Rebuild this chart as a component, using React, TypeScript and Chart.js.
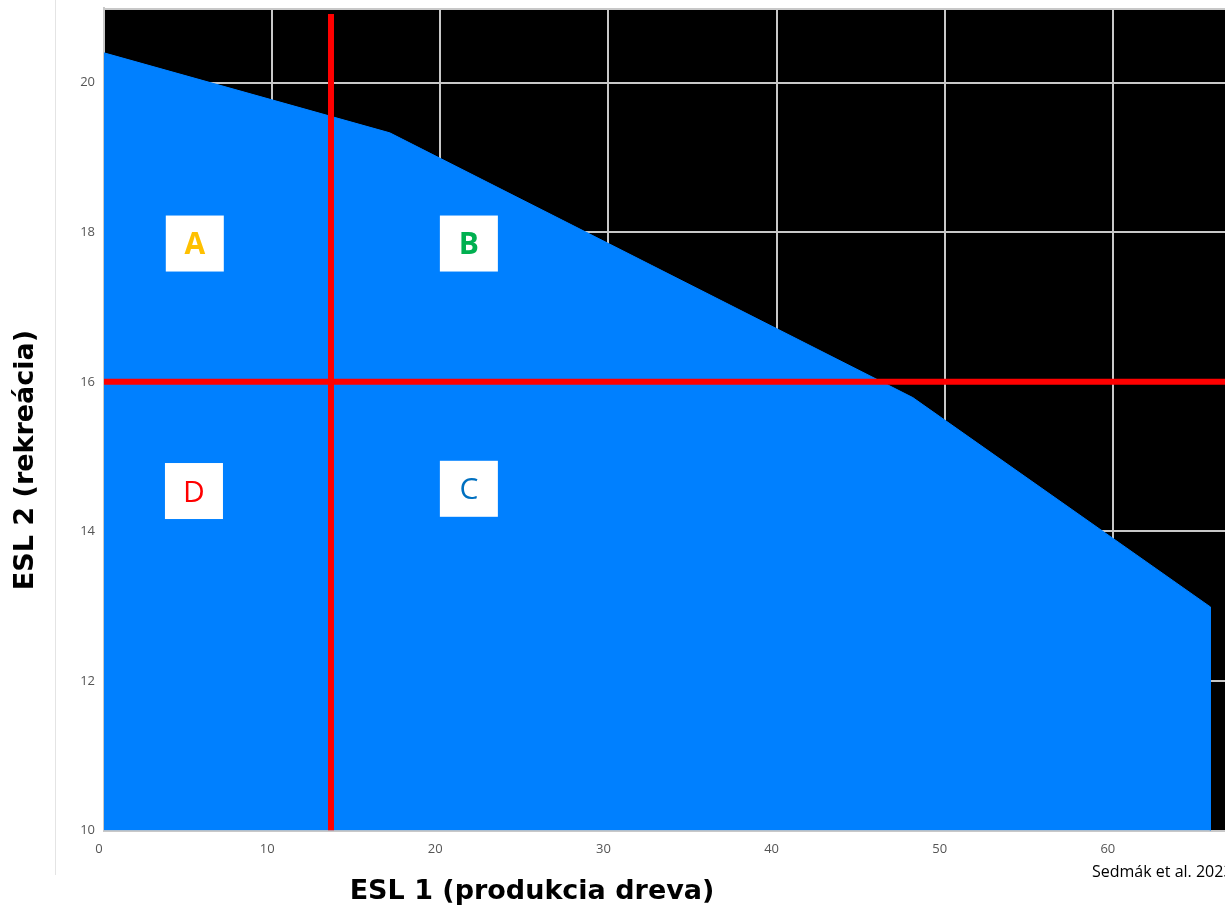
import { useEffect, useRef } from "react";
import { Chart, registerables } from "chart.js";

Chart.register(...registerables);

// ---- data ----
const frontierX = [0, 17.0, 48.1, 65.8, 65.8];
const frontierY = [20.4, 19.33, 15.79, 12.99, 10];

const xTickValues = [0, 10, 20, 30, 40, 50, 60, 70];
const yTickValues = [10, 12, 14, 16, 18, 20];
const xRange = [0, 70];
const yRange = [10, 21];

const thresholdX = 13.5; // vertical red line (ESL 1)
const thresholdY = 16; // horizontal red line (ESL 2)
const verticalLineTop = 20.92;

const quadrantLabels = ["A", "B", "C", "D"];
const quadrantX = [5.4, 21.7, 21.7, 5.35];
const quadrantY = [17.85, 17.85, 14.57, 14.54];
const quadrantColors = ["#FFC000", "#00B050", "#0070C0", "#FF0000"];
const quadrantWeights = ["bold", "bold", "normal", "normal"];

const xTitle = "ESL 1 (produkcia dreva)";
const yTitle = "ESL 2 (rekreácia)";
const sourceNote = "Sedmák et al. 2023";

const FONT = "'Open Sans', 'DejaVu Sans', sans-serif";
const TITLE_FONT = "'DejaVu Sans', 'Open Sans', sans-serif";

const backgroundPlugin = {
  id: "plotBackground",
  beforeDraw(chart: any) {
    const { ctx, chartArea } = chart;
    ctx.save();
    ctx.fillStyle = "#000000";
    ctx.fillRect(chartArea.left, chartArea.top, chartArea.right - chartArea.left, chartArea.bottom - chartArea.top);
    ctx.strokeStyle = "#c8c8c8";
    ctx.lineWidth = 2;
    ctx.beginPath();
    ctx.moveTo(chartArea.left, chartArea.top + 1);
    ctx.lineTo(chartArea.right, chartArea.top + 1);
    ctx.stroke();
    ctx.restore();
  },
};

const labelsPlugin = {
  id: "quadrantLabels",
  afterDatasetsDraw(chart: any) {
    const { ctx } = chart;
    const xs = chart.scales.x;
    const ys = chart.scales.y;
    ctx.save();
    quadrantLabels.forEach((lab, i) => {
      const cx = xs.getPixelForValue(quadrantX[i]);
      const cy = ys.getPixelForValue(quadrantY[i]);
      const w = 58;
      const h = 56;
      ctx.fillStyle = "#ffffff";
      ctx.fillRect(cx - w / 2, cy - h / 2, w, h);
      ctx.fillStyle = quadrantColors[i];
      ctx.font = `${quadrantWeights[i]} 30px ${FONT}`;
      ctx.textAlign = "center";
      ctx.textBaseline = "alphabetic";
      ctx.fillText(lab, cx, cy + 10.7);
    });
    ctx.restore();
  },
  afterDraw(chart: any) {
    const { ctx } = chart;
    ctx.save();
    ctx.fillStyle = "#000000";
    ctx.font = `bold 27px ${TITLE_FONT}`;
    ctx.textAlign = "center";
    ctx.textBaseline = "alphabetic";
    ctx.fillText(xTitle, 532, 899);

    ctx.save();
    ctx.translate(33, 460);
    ctx.rotate(-Math.PI / 2);
    ctx.fillText(yTitle, 0, 0);
    ctx.restore();

    ctx.font = `normal 16px ${FONT}`;
    ctx.textAlign = "left";
    ctx.fillText(sourceNote, 1092, 877);
    ctx.restore();
  },
};

export default function App() {
  const canvasRef = useRef<HTMLCanvasElement | null>(null);

  useEffect(() => {
    const canvas = canvasRef.current;
    if (!canvas) return;

    const tickFont = { family: FONT, size: 13 };

    const chart = new Chart(canvas, {
      type: "scatter",
      data: {
        datasets: [
          {
            label: "vertical",
            data: [
              { x: thresholdX, y: yRange[0] },
              { x: thresholdX, y: verticalLineTop },
            ],
            showLine: true,
            borderColor: "#FF0000",
            borderWidth: 6,
            pointRadius: 0,
            fill: false,
            order: 0,
          },
          {
            label: "horizontal",
            data: [
              { x: xRange[0], y: thresholdY },
              { x: xRange[1], y: thresholdY },
            ],
            showLine: true,
            borderColor: "#FF0000",
            borderWidth: 6,
            pointRadius: 0,
            fill: false,
            order: 0,
          },
          {
            label: "frontier",
            data: frontierX.map((x, i) => ({ x, y: frontierY[i] })),
            showLine: true,
            borderColor: "#0080FF",
            backgroundColor: "#0080FF",
            borderWidth: 1,
            pointRadius: 0,
            fill: "start",
            order: 1,
          },
        ],
      },
      options: {
        responsive: false,
        animation: false,
        layout: { padding: { top: 8, left: 0, right: 0, bottom: 0 } },
        plugins: {
          legend: { display: false },
          tooltip: { enabled: false },
          title: { display: false },
        },
        scales: {
          x: {
            type: "linear",
            min: xRange[0],
            max: xRange[1],
            afterBuildTicks: (s: any) => {
              s.ticks = xTickValues.map((v) => ({ value: v }));
            },
            afterFit: (s: any) => {
              s.height = 76.5;
              s.paddingLeft = 0;
              s.paddingRight = 0;
            },
            grid: { color: "#c8c8c8", lineWidth: 2, drawTicks: false },
            border: { display: true, color: "#c8c8c8", width: 2 },
            ticks: {
              padding: 11,
              labelOffset: -5,
              color: "#555555",
              font: tickFont,
              maxRotation: 0,
              autoSkip: false,
            },
          },
          y: {
            type: "linear",
            min: yRange[0],
            max: yRange[1],
            afterBuildTicks: (s: any) => {
              s.ticks = yTickValues.map((v) => ({ value: v }));
            },
            afterFit: (s: any) => {
              s.width = 104;
              s.paddingTop = 0;
              s.paddingBottom = 0;
            },
            grid: { color: "#c8c8c8", lineWidth: 2, drawTicks: false },
            border: { display: true, color: "#c8c8c8", width: 2 },
            ticks: {
              padding: 9,
              color: "#555555",
              font: tickFont,
              autoSkip: false,
            },
          },
        },
      },
      plugins: [backgroundPlugin, labelsPlugin],
    } as any);

    return () => chart.destroy();
  }, []);

  return (
    <div
      style={{
        position: "fixed",
        left: 0,
        top: 0,
        width: 1225,
        height: 907,
        overflow: "hidden",
        background: "#ffffff",
      }}
    >
      <div
        style={{
          position: "absolute",
          left: 55,
          top: 0,
          width: 1,
          height: 875,
          background: "#e4e4e4",
        }}
      />
      <canvas
        ref={canvasRef}
        width={1281}
        height={907}
        style={{ position: "absolute", left: 0, top: 0, width: 1281, height: 907 }}
      />
    </div>
  );
}
